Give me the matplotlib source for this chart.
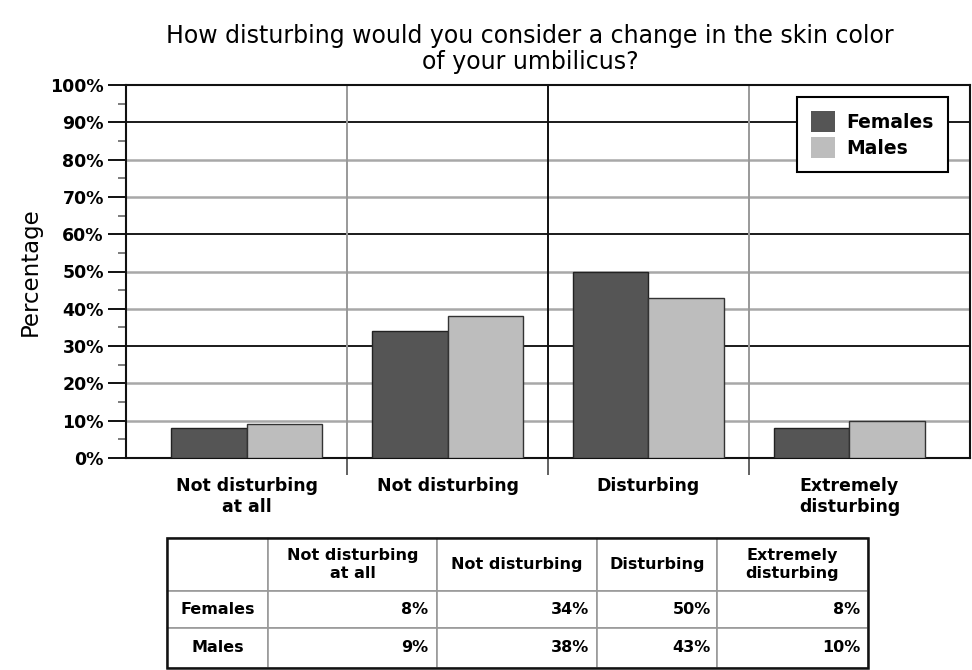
import matplotlib
matplotlib.use("Agg")
import matplotlib.pyplot as plt
from matplotlib.patches import Rectangle
import numpy as np

categories = ["Not disturbing\nat all", "Not disturbing", "Disturbing", "Extremely\ndisturbing"]
females = [8, 34, 50, 8]
males = [9, 38, 43, 10]
series_names = ["Females", "Males"]
table_header = ["Not disturbing\nat all", "Not disturbing", "Disturbing", "Extremely\ndisturbing"]
yticks = list(range(0, 101, 10))

title = "How disturbing would you consider a change in the skin color\nof your umbilicus?"

c_f = "#555555"
c_m = "#bdbdbd"

plt.rcParams['font.family'] = ['DejaVu Sans']

fig = plt.figure(figsize=(9.72, 6.70), dpi=100)
ax = fig.add_axes([126/972, 1-458/670, 844/972, 373/670])

x = np.arange(len(categories))
w = 0.375
ax.bar(x - w/2, females, w, color=c_f, edgecolor="#222222", linewidth=1, label=series_names[0], zorder=3)
ax.bar(x + w/2, males, w, color=c_m, edgecolor="#333333", linewidth=1, label=series_names[1], zorder=3)

ax.set_xlim(-0.6, 3.6)
ax.set_ylim(0, 100)

# horizontal grid
for v in yticks[1:]:
    if v == 100:
        continue
    if v % 30 == 0:
        ax.axhline(v, color="#1a1a1a", lw=1.4, zorder=1)
    else:
        ax.axhline(v, color="#a8a8a8", lw=1.8, zorder=1)
# vertical separators
for b, col in zip([0.5, 1.5, 2.5], ["#999999", "#111111", "#999999"]):
    ax.axvline(b, color=col, lw=1.4, zorder=1)

ax.set_yticks(yticks)
ax.set_yticklabels([f"{v}%" for v in yticks], fontsize=12.5, fontweight="bold")
ax.set_yticks(np.arange(5, 100, 10), minor=True)
ax.tick_params(axis="y", which="major", length=13, width=1.4, color="#111111", pad=3)
ax.tick_params(axis="y", which="minor", length=6, width=1.2, color="#666666")

ax.set_xticks(x)
ax.set_xticklabels(categories, fontsize=12.5, fontweight="bold")
ax.set_xticks([0.5, 1.5, 2.5], minor=True)
ax.tick_params(axis="x", which="major", length=0, pad=14)
ax.tick_params(axis="x", which="minor", length=12, width=1.3, color="#555555")

for s in ax.spines.values():
    s.set_color("#111111")
    s.set_linewidth(1.5)

ax.set_ylabel("Percentage", fontsize=16.5, labelpad=6)

leg = ax.legend(loc="upper right", bbox_to_anchor=(0.974, 0.968), borderaxespad=0,
                fancybox=False, edgecolor="black", framealpha=1,
                prop={"weight": "bold", "size": 13.5}, handlelength=1.3, handleheight=1.35,
                borderpad=0.75, labelspacing=0.25, handletextpad=0.6)
leg.get_frame().set_linewidth(1.5)
for h in leg.legend_handles:
    h.set_edgecolor("none")

fig.text(530/972, 1-49/670, title, ha="center", va="center", fontsize=17, linespacing=1.15)

# table
tax = fig.add_axes([167/972, 1-668/670, (868-167)/972, (668-538)/670])
tax.axis("off")
col_w = np.array([101, 169, 160, 120, 151], dtype=float)
col_w = col_w / col_w.sum()
cell_text = [[""] + table_header,
             [series_names[0]] + [f"{v}%" for v in females],
             [series_names[1]] + [f"{v}%" for v in males]]
tbl = tax.table(cellText=cell_text, colWidths=list(col_w), bbox=[0, 0, 1, 1], cellLoc="center")
tbl.auto_set_font_size(False)
row_h = [53, 37, 40]
tot = sum(row_h)
for (r, c), cell in tbl.get_celld().items():
    cell.set_height(row_h[r] / tot)
    cell.set_edgecolor("#9a9a9a")
    cell.set_linewidth(1.2)
    cell.get_text().set_fontsize(11.5)
    cell.get_text().set_fontweight("bold")
    if r > 0 and c > 0:
        cell.get_text().set_ha("right")
        cell._loc = "right"
        cell.PAD = 0.05
tax.add_patch(Rectangle((0, 0), 1, 1, transform=tax.transAxes, fill=False,
                        edgecolor="#111111", lw=1.8, zorder=10, clip_on=False))

fig.savefig("out.png", dpi=100)
